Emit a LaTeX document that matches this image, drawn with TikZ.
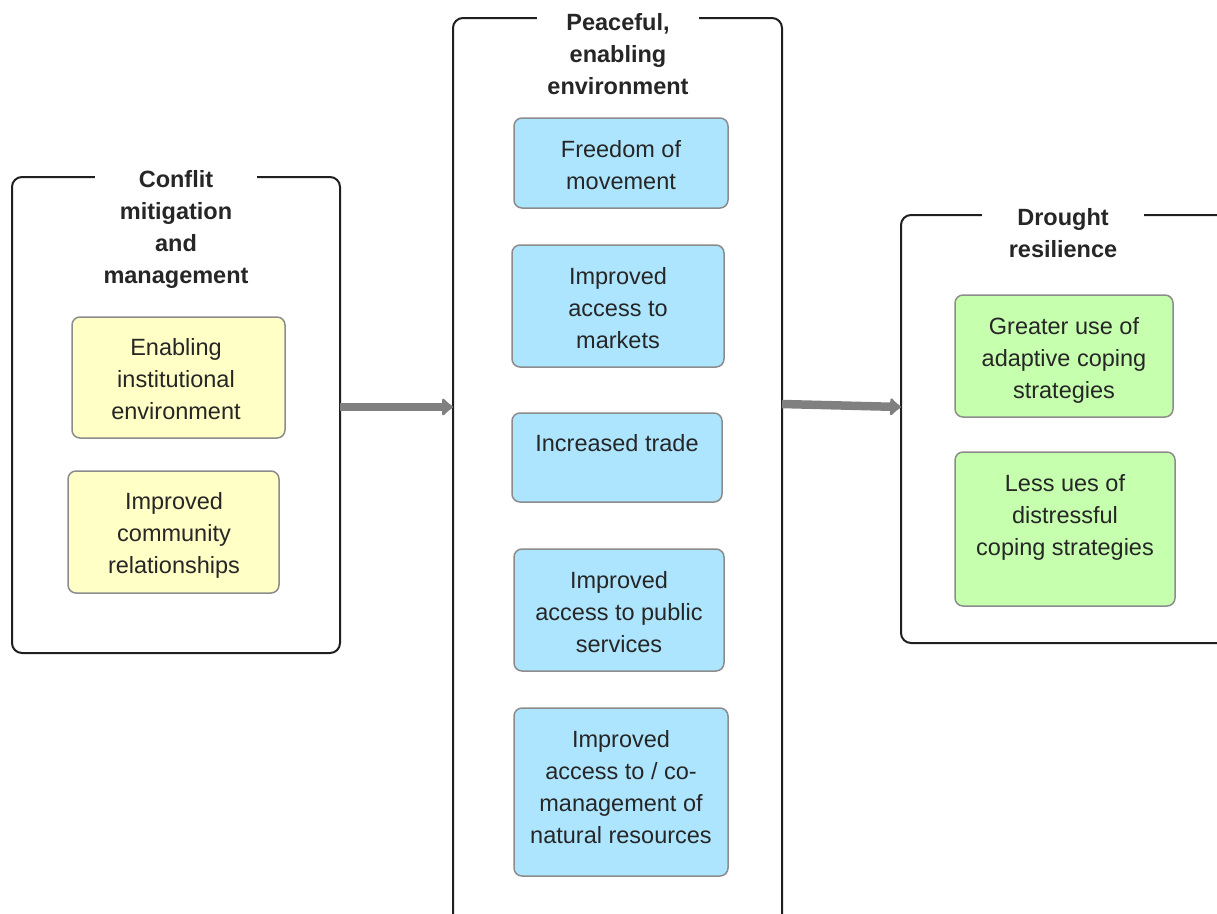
\documentclass[tikz,border=0pt]{standalone}
\usepackage{fontspec}
\setmainfont{Liberation Sans}
\usetikzlibrary{arrows.meta}
\definecolor{ylw}{HTML}{FFFFC6}
\definecolor{blu}{HTML}{ADE5FF}
\definecolor{grn}{HTML}{C6FFAE}
\definecolor{txt}{HTML}{262626}
\definecolor{arr}{HTML}{808080}
\definecolor{bord}{HTML}{8C8C8C}
\begin{document}
\begin{tikzpicture}[x=1pt,y=-1pt,
  container/.style={draw=black!88, line width=2pt, rounded corners=10pt, outer sep=0pt, inner sep=0pt},
  grouptitle/.style={fill=white, font=\bfseries\fontsize{23.5}{32}\selectfont, text=txt, align=center, anchor=north, inner xsep=0pt, inner ysep=0pt, minimum width=162pt},
  item/.style={draw=bord, line width=1.5pt, rounded corners=8pt, outer sep=0pt, inner sep=0pt},
  itemtext/.style={font=\fontsize{23.5}{32}\selectfont, text=txt, align=center, anchor=north, inner sep=0pt},
  flow/.style={draw=arr, line width=8.5pt, -{Latex[length=12pt,width=22pt,round]}}]
\useasboundingbox (0,0) rectangle (1217,913);
\clip (0,0) rectangle (1217,913);

% containers
\node[container, minimum width=328pt, minimum height=476pt] (L) at (176,415) {};
\node[container, minimum width=329pt, minimum height=912pt] (M) at (617.5,474) {};
\node[container, minimum width=329pt, minimum height=428pt] (R) at (1065.5,429) {};

\node[grouptitle] (Lt) at (176,170.5) {Conflit\\mitigation\\and\\management};
\node[grouptitle] (Mt) at (618,13.5) {Peaceful,\\enabling\\environment};
\node[grouptitle] (Rt) at (1063,208.5) {Drought\\resilience};

% left items
\node[item, fill=ylw, minimum width=213pt, minimum height=121pt] (y1) at (178.5,377.5) {};
\node[itemtext] (y1t) at (176,338.5) {Enabling\\institutional\\environment};
\node[item, fill=ylw, minimum width=211pt, minimum height=122pt] (y2) at (173.5,532) {};
\node[itemtext] (y2t) at (174,492.5) {Improved\\community\\relationships};

% middle items
\node[item, fill=blu, minimum width=214pt, minimum height=90pt] (b1) at (621,163) {};
\node[itemtext] (b1t) at (621,140.5) {Freedom of\\movement};
\node[item, fill=blu, minimum width=212pt, minimum height=122pt] (b2) at (618,306) {};
\node[itemtext] (b2t) at (618,267.5) {Improved\\access to\\markets};
\node[item, fill=blu, minimum width=210pt, minimum height=89pt] (b3) at (617,457.5) {};
\node[itemtext] (b3t) at (617,434.5) {Increased trade};
\node[item, fill=blu, minimum width=210pt, minimum height=122pt] (b4) at (619,610) {};
\node[itemtext] (b4t) at (619,571.5) {Improved\\access to public\\services};
\node[item, fill=blu, minimum width=214pt, minimum height=168pt] (b5) at (621,792) {};
\node[itemtext] (b5t) at (621,730.5) {Improved\\access to / co-\\management of\\natural resources};

% right items
\node[item, fill=grn, minimum width=218pt, minimum height=122pt] (g1) at (1064,356) {};
\node[itemtext] (g1t) at (1064,317.5) {Greater use of\\adaptive coping\\strategies};
\node[item, fill=grn, minimum width=220pt, minimum height=154pt] (g2) at (1065,529) {};
\node[itemtext] (g2t) at (1065,474.5) {Less ues of\\distressful\\coping strategies};

% connectors
\coordinate (a0) at (L.east |- 0,407);
\coordinate (a1) at (M.west |- 0,407);
\coordinate (c0) at (M.east |- 0,404);
\coordinate (c1) at (R.west |- 0,407);
\draw[flow] (a0) -- (a1);
\draw[flow] (c0) -- (c1);
\end{tikzpicture}
\end{document}
